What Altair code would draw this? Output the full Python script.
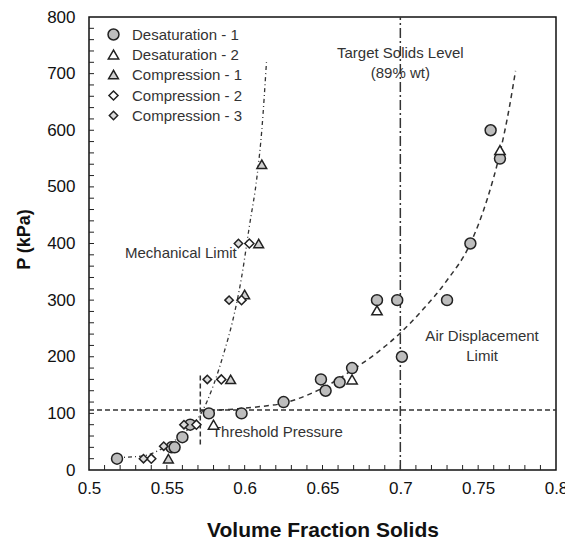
import altair as alt
import pandas as pd

# ---- data ----
series_names = ["Desaturation - 1", "Desaturation - 2", "Compression - 1",
                "Compression - 2", "Compression - 3"]

desat1_x = [0.518, 0.553, 0.555, 0.560, 0.565, 0.577, 0.598, 0.625, 0.649, 0.652,
            0.661, 0.669, 0.685, 0.698, 0.701, 0.730, 0.745, 0.758, 0.764]
desat1_y = [20, 40, 40, 58, 80, 100, 100, 120, 160, 140,
            155, 180, 300, 300, 200, 300, 400, 600, 550]

desat2_x = [0.580, 0.669, 0.685, 0.764]
desat2_y = [80, 160, 282, 565]

comp1_x = [0.551, 0.591, 0.600, 0.609, 0.611]
comp1_y = [20, 160, 310, 400, 540]

comp2_x = [0.540, 0.569, 0.585, 0.598, 0.603]
comp2_y = [20, 80, 160, 300, 400]

comp3_x = [0.535, 0.548, 0.561, 0.576, 0.590, 0.596]
comp3_y = [20, 42, 80, 160, 300, 400]

# fitted guide curves
mech_x = [0.518, 0.535, 0.545, 0.555, 0.565, 0.572, 0.580, 0.587, 0.592, 0.598,
          0.603, 0.608, 0.611, 0.614]
mech_y = [22, 25, 35, 52, 76, 100, 150, 210, 260, 340, 430, 520, 600, 720]

air_x = [0.572, 0.590, 0.610, 0.625, 0.640, 0.655, 0.670, 0.685, 0.700, 0.715,
         0.730, 0.745, 0.756, 0.764, 0.770, 0.774]
air_y = [105, 107, 112, 118, 132, 152, 178, 207, 242, 285, 335, 400, 480, 560,
         640, 705]

threshold_p = 106
threshold_x = 0.5715
threshold_seg_y = [45, 170]
target_x = 0.7

x_labels = [0.5, 0.55, 0.6, 0.65, 0.7, 0.75, 0.8]
y_labels = [0, 100, 200, 300, 400, 500, 600, 700, 800]
x_minor = [round(0.5 + 0.01 * i, 2) for i in range(1, 30)]
y_minor = [20 * i for i in range(1, 40)]

notes_text = ["Target Solids Level", "(89% wt)", "Mechanical Limit",
              "Threshold Pressure", "Air Displacement", "Limit"]
notes_x = [0.700, 0.700, 0.559, 0.621, 0.7525, 0.7525]
notes_y = [737, 701, 383, 67, 237, 201]

# ---- tables ----
rows = []
for name, xs_, ys_ in zip(series_names,
                          [desat1_x, desat2_x, comp1_x, comp2_x, comp3_x],
                          [desat1_y, desat2_y, comp1_y, comp2_y, comp3_y]):
    for a, b in zip(xs_, ys_):
        rows.append({"series": name, "x": a, "y": b})
pts = pd.DataFrame(rows)

mech = pd.DataFrame({"x": mech_x, "y": mech_y})
air = pd.DataFrame({"x": air_x, "y": air_y})
hline = pd.DataFrame({"x": [0.5, 0.8], "y": [threshold_p, threshold_p]})
vseg = pd.DataFrame({"x": [threshold_x, threshold_x], "y": threshold_seg_y})
vtarget = pd.DataFrame({"x": [target_x, target_x], "y": [0, 800]})
notes = pd.DataFrame({"t": notes_text, "x": notes_x, "y": notes_y})
xm = pd.DataFrame({"x": x_minor})
ym = pd.DataFrame({"y": y_minor})

FONT = "Liberation Sans"
xs = alt.Scale(domain=[0.5, 0.8], nice=False, zero=False)
ys = alt.Scale(domain=[0, 800], nice=False, zero=False)

xax = alt.Axis(values=x_labels, ticks=False, domain=False, grid=False,
               labelFontSize=17, labelFont=FONT, labelColor="#111",
               labelPadding=10, labelFlush=False, labelOverlap=False,
               labelExpr="format(datum.value, '')",
               title="Volume Fraction Solids", titleFont=FONT, titleFontSize=21,
               titleFontWeight="bold", titleColor="#111",
               titleY=60, titleBaseline="middle")
yax = alt.Axis(values=y_labels, ticks=False, domain=False, grid=False,
               labelFontSize=17, labelFont=FONT, labelColor="#111",
               labelPadding=14, labelFlush=False, labelOverlap=False,
               title="P (kPa)", titleFont=FONT, titleFontSize=18,
               titleFontWeight="bold", titleColor="#111",
               titleX=-65, titleY=222, titleBaseline="middle", titleAngle=-90)

base_x = alt.X("x:Q", scale=xs, axis=xax)
base_y = alt.Y("y:Q", scale=ys, axis=yax)


def line_layer(df, dash, width=1.4, interp="linear"):
    return alt.Chart(df).mark_line(color="#333", strokeWidth=width,
                                   strokeDash=dash, interpolate=interp).encode(
        x=alt.X("x:Q", scale=xs), y=alt.Y("y:Q", scale=ys))


mech_l = line_layer(mech, [4, 3, 1, 3], 1.3, "monotone")
air_l = line_layer(air, [5, 4], 1.5, "monotone")
h_l = line_layer(hline, [5, 3], 1.5)
vs_l = line_layer(vseg, [5, 3], 1.5)
vt_l = line_layer(vtarget, [10, 3, 2, 3], 1.5)


def leg():
    return alt.Legend(title=None, orient="none", legendX=17, legendY=10,
                      labelFont=FONT, labelFontSize=15, labelColor="#333",
                      labelOffset=11, rowPadding=4, padding=0,
                      symbolStrokeWidth=1.5)


points = alt.Chart(pts).mark_point(filled=False, strokeWidth=1.5,
                                   opacity=1).encode(
    x=base_x, y=base_y,
    shape=alt.Shape("series:N", scale=alt.Scale(
        domain=series_names,
        range=["circle", "triangle-up", "triangle-up", "diamond", "diamond"]),
        legend=leg()),
    fill=alt.Fill("series:N", scale=alt.Scale(
        domain=series_names,
        range=["#bdbdbd", "#ffffff", "#d0d0d0", "#ffffff", "#dcdcdc"]),
        legend=leg()),
    stroke=alt.Stroke("series:N", scale=alt.Scale(
        domain=series_names,
        range=["#222222", "#222222", "#222222", "#222222", "#222222"]),
        legend=leg()),
    size=alt.Size("series:N", scale=alt.Scale(
        domain=series_names, range=[120, 70, 70, 60, 60]),
        legend=leg()),
)

text_l = alt.Chart(notes).mark_text(font=FONT, fontSize=15, color="#333",
                                    align="center", baseline="middle").encode(
    x=alt.X("x:Q", scale=xs), y=alt.Y("y:Q", scale=ys), text="t:N")

xt = alt.Chart(xm).mark_rule(color="#222", strokeWidth=1).encode(
    x=alt.X("x:Q", scale=xs), y=alt.value(453), y2=alt.value(448))
yt = alt.Chart(ym).mark_rule(color="#222", strokeWidth=1).encode(
    y=alt.Y("y:Q", scale=ys), x=alt.value(0), x2=alt.value(5))

chart = alt.layer(xt, yt, h_l, vs_l, vt_l, mech_l, air_l, text_l, points).properties(
    width=467, height=453,
    autosize=alt.AutoSizeParams(type="none"),
    padding={"left": 89, "top": 17, "right": 9, "bottom": 71},
    background="white",
).configure_view(stroke="#111", strokeWidth=1.5)

chart.save("out.html", embed_options={"renderer": "svg", "actions": False})
